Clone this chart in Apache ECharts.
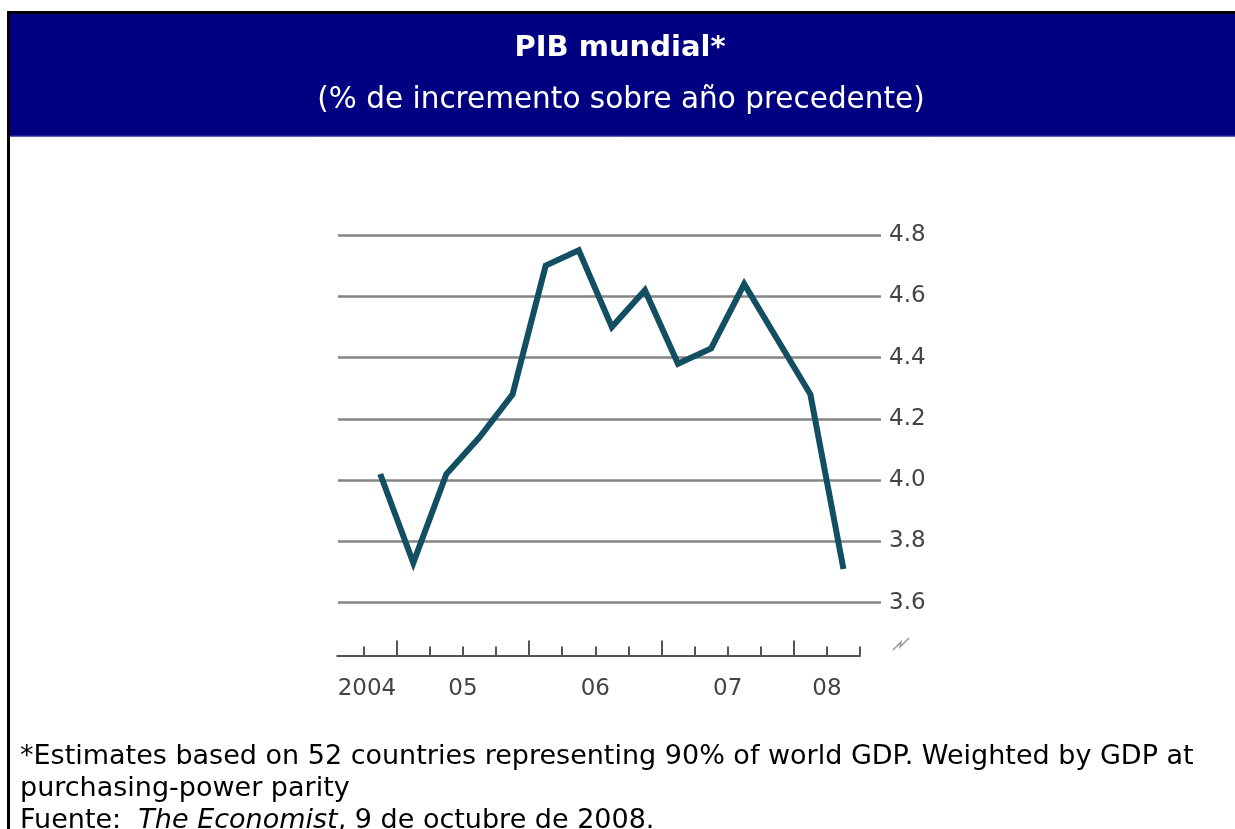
<!DOCTYPE html>
<html><head><meta charset="utf-8">
<script src="https://cdn.jsdelivr.net/npm/echarts@6/dist/echarts.min.js"></script>
<style>html,body{margin:0;padding:0;background:#fff}#c{width:1235px;height:829px}</style>
</head><body><div id="c"></div>
<script>
// ---- data ----
const quarters = ['2004 T4','2005 T1','2005 T2','2005 T3','2005 T4','2006 T1','2006 T2','2006 T3','2006 T4','2007 T1','2007 T2','2007 T3','2007 T4','2008 T1','2008 T2'];
const gdpGrowth = [4.02, 3.73, 4.02, 4.14, 4.28, 4.70, 4.75, 4.50, 4.62, 4.38, 4.43, 4.64, 4.46, 4.28, 3.71];
const yearLabels = ['2004', '05', '06', '07', '08'];
const yearStarts = [-3, 1, 5, 9, 13]; // quarter boundary where each year begins (0 = start of 2004 T4)
const yMin = 3.6, yMax = 4.8, yStep = 0.2;
const titleText = 'PIB mundial*';
const subtitleText = '(% de incremento sobre año precedente)';
const noteLine1 = '*Estimates based on 52 countries representing 90% of world GDP. Weighted by GDP at';
const noteLine2 = 'purchasing-power parity';

// ---- axis extent (quarters) ----
const xMin = -0.8, xMax = quarters.length;
const minorTicks = [];
for (let b = 0; b <= quarters.length; b++) minorTicks.push(b);
const majorTicks = yearStarts.filter(s => s > xMin && s <= xMax);
const labelPos = yearStarts.map(s => (Math.max(s, xMin) + Math.min(s + 4, xMax)) / 2);
const labelMap = {};
labelPos.forEach((p, i) => { labelMap[p.toFixed(3)] = yearLabels[i]; });

// ---- layout ----
const plotTop = 235, gridPxPerUnit = 306.4;
const axisY = 655.5;
const y3_6 = plotTop + (yMax - yMin) * gridPxPerUnit;
const yMinLow = yMin - (axisY - y3_6) / gridPxPerUnit;
const FONT = 'DejaVu Sans';
const axisColor = '#555';

const chart = echarts.init(document.getElementById('c'), null, {renderer: 'canvas'});
chart.setOption({
  animation: false,
  backgroundColor: '#fff',
  grid: [
    {left: 338, right: 1235 - 881, top: plotTop, height: (yMax - yMin) * gridPxPerUnit},
    {left: 337.2, right: 1235 - 860, top: plotTop, height: axisY - plotTop}
  ],
  xAxis: [
    {gridIndex: 0, type: 'value', min: 0, max: 1, show: false},
    {gridIndex: 1, type: 'value', min: xMin, max: xMax, position: 'bottom',
      axisLine: {show: true, lineStyle: {color: axisColor, width: 2}},
      axisTick: {show: true, inside: true, length: 9, customValues: minorTicks, lineStyle: {color: axisColor, width: 2}},
      axisLabel: {show: true, customValues: labelPos, margin: 22, color: '#444', fontSize: 23, fontFamily: FONT,
        formatter: v => labelMap[Number(v).toFixed(3)] || ''},
      splitLine: {show: false}},
    {gridIndex: 1, type: 'value', min: xMin, max: xMax, position: 'bottom', offset: 0,
      axisLine: {show: false},
      axisTick: {show: true, inside: true, length: 15, customValues: majorTicks, lineStyle: {color: axisColor, width: 2}},
      axisLabel: {show: false}, splitLine: {show: false}}
  ],
  yAxis: [
    {gridIndex: 0, type: 'value', position: 'right', min: yMin, max: yMax, interval: yStep,
      axisLine: {show: false}, axisTick: {show: false},
      axisLabel: {margin: 8, color: '#444', fontSize: 23, fontFamily: FONT, formatter: v => v.toFixed(1)},
      splitLine: {show: true, lineStyle: {color: '#858585', width: 2.5}}},
    {gridIndex: 1, type: 'value', min: yMinLow, max: yMax, show: false, splitLine: {show: false}}
  ],
  series: [{
    type: 'line', name: 'PIB mundial', xAxisIndex: 1, yAxisIndex: 1,
    data: gdpGrowth.map((v, i) => [i + 0.5, v]),
    showSymbol: false, symbol: 'none',
    lineStyle: {color: '#134f63', width: 6, join: 'miter'},
    z: 5
  }],
  graphic: [
    {type: 'rect', shape: {x: 10, y: 14, width: 1230, height: 122.5}, style: {fill: '#000080'}, silent: true, z: 0},
    {type: 'line', shape: {x1: 10, y1: 136, x2: 1235, y2: 136}, style: {stroke: '#3a3aa8', lineWidth: 1}, silent: true},
    {type: 'rect', shape: {x: 8.5, y: 12.5, width: 1240, height: 900}, style: {fill: 'none', stroke: '#000', lineWidth: 3}, silent: true},
    {type: 'text', x: 620, y: 48, style: {text: titleText, fill: '#fff', font: 'bold 29px "DejaVu Sans"', textAlign: 'center', textVerticalAlign: 'middle'}},
    {type: 'text', x: 621, y: 100, style: {text: subtitleText, fill: '#fff', font: '29.5px "DejaVu Sans"', textAlign: 'center', textVerticalAlign: 'middle'}},
    {type: 'text', x: 20, y: 757, style: {text: noteLine1, fill: '#000', font: '27px "DejaVu Sans"', textAlign: 'left', textVerticalAlign: 'middle'}},
    {type: 'text', x: 20, y: 789, style: {text: noteLine2, fill: '#000', font: '27px "DejaVu Sans"', textAlign: 'left', textVerticalAlign: 'middle'}},
    {type: 'text', x: 20, y: 821, style: {
      text: '{n|Fuente:  }{i|The Economist}{n|, 9 de octubre de 2008.}',
      textAlign: 'left', textVerticalAlign: 'middle',
      rich: {n: {fill: '#000', font: '27px "DejaVu Sans"'}, i: {fill: '#000', font: 'italic 27px "DejaVu Sans"'}}}},
    {type: 'polyline', shape: {points: [[893, 650], [901, 642], [900, 647], [909, 638]]}, style: {stroke: '#999', lineWidth: 1.5, fill: 'none'}, silent: true}
  ]
});
</script>
</body></html>
